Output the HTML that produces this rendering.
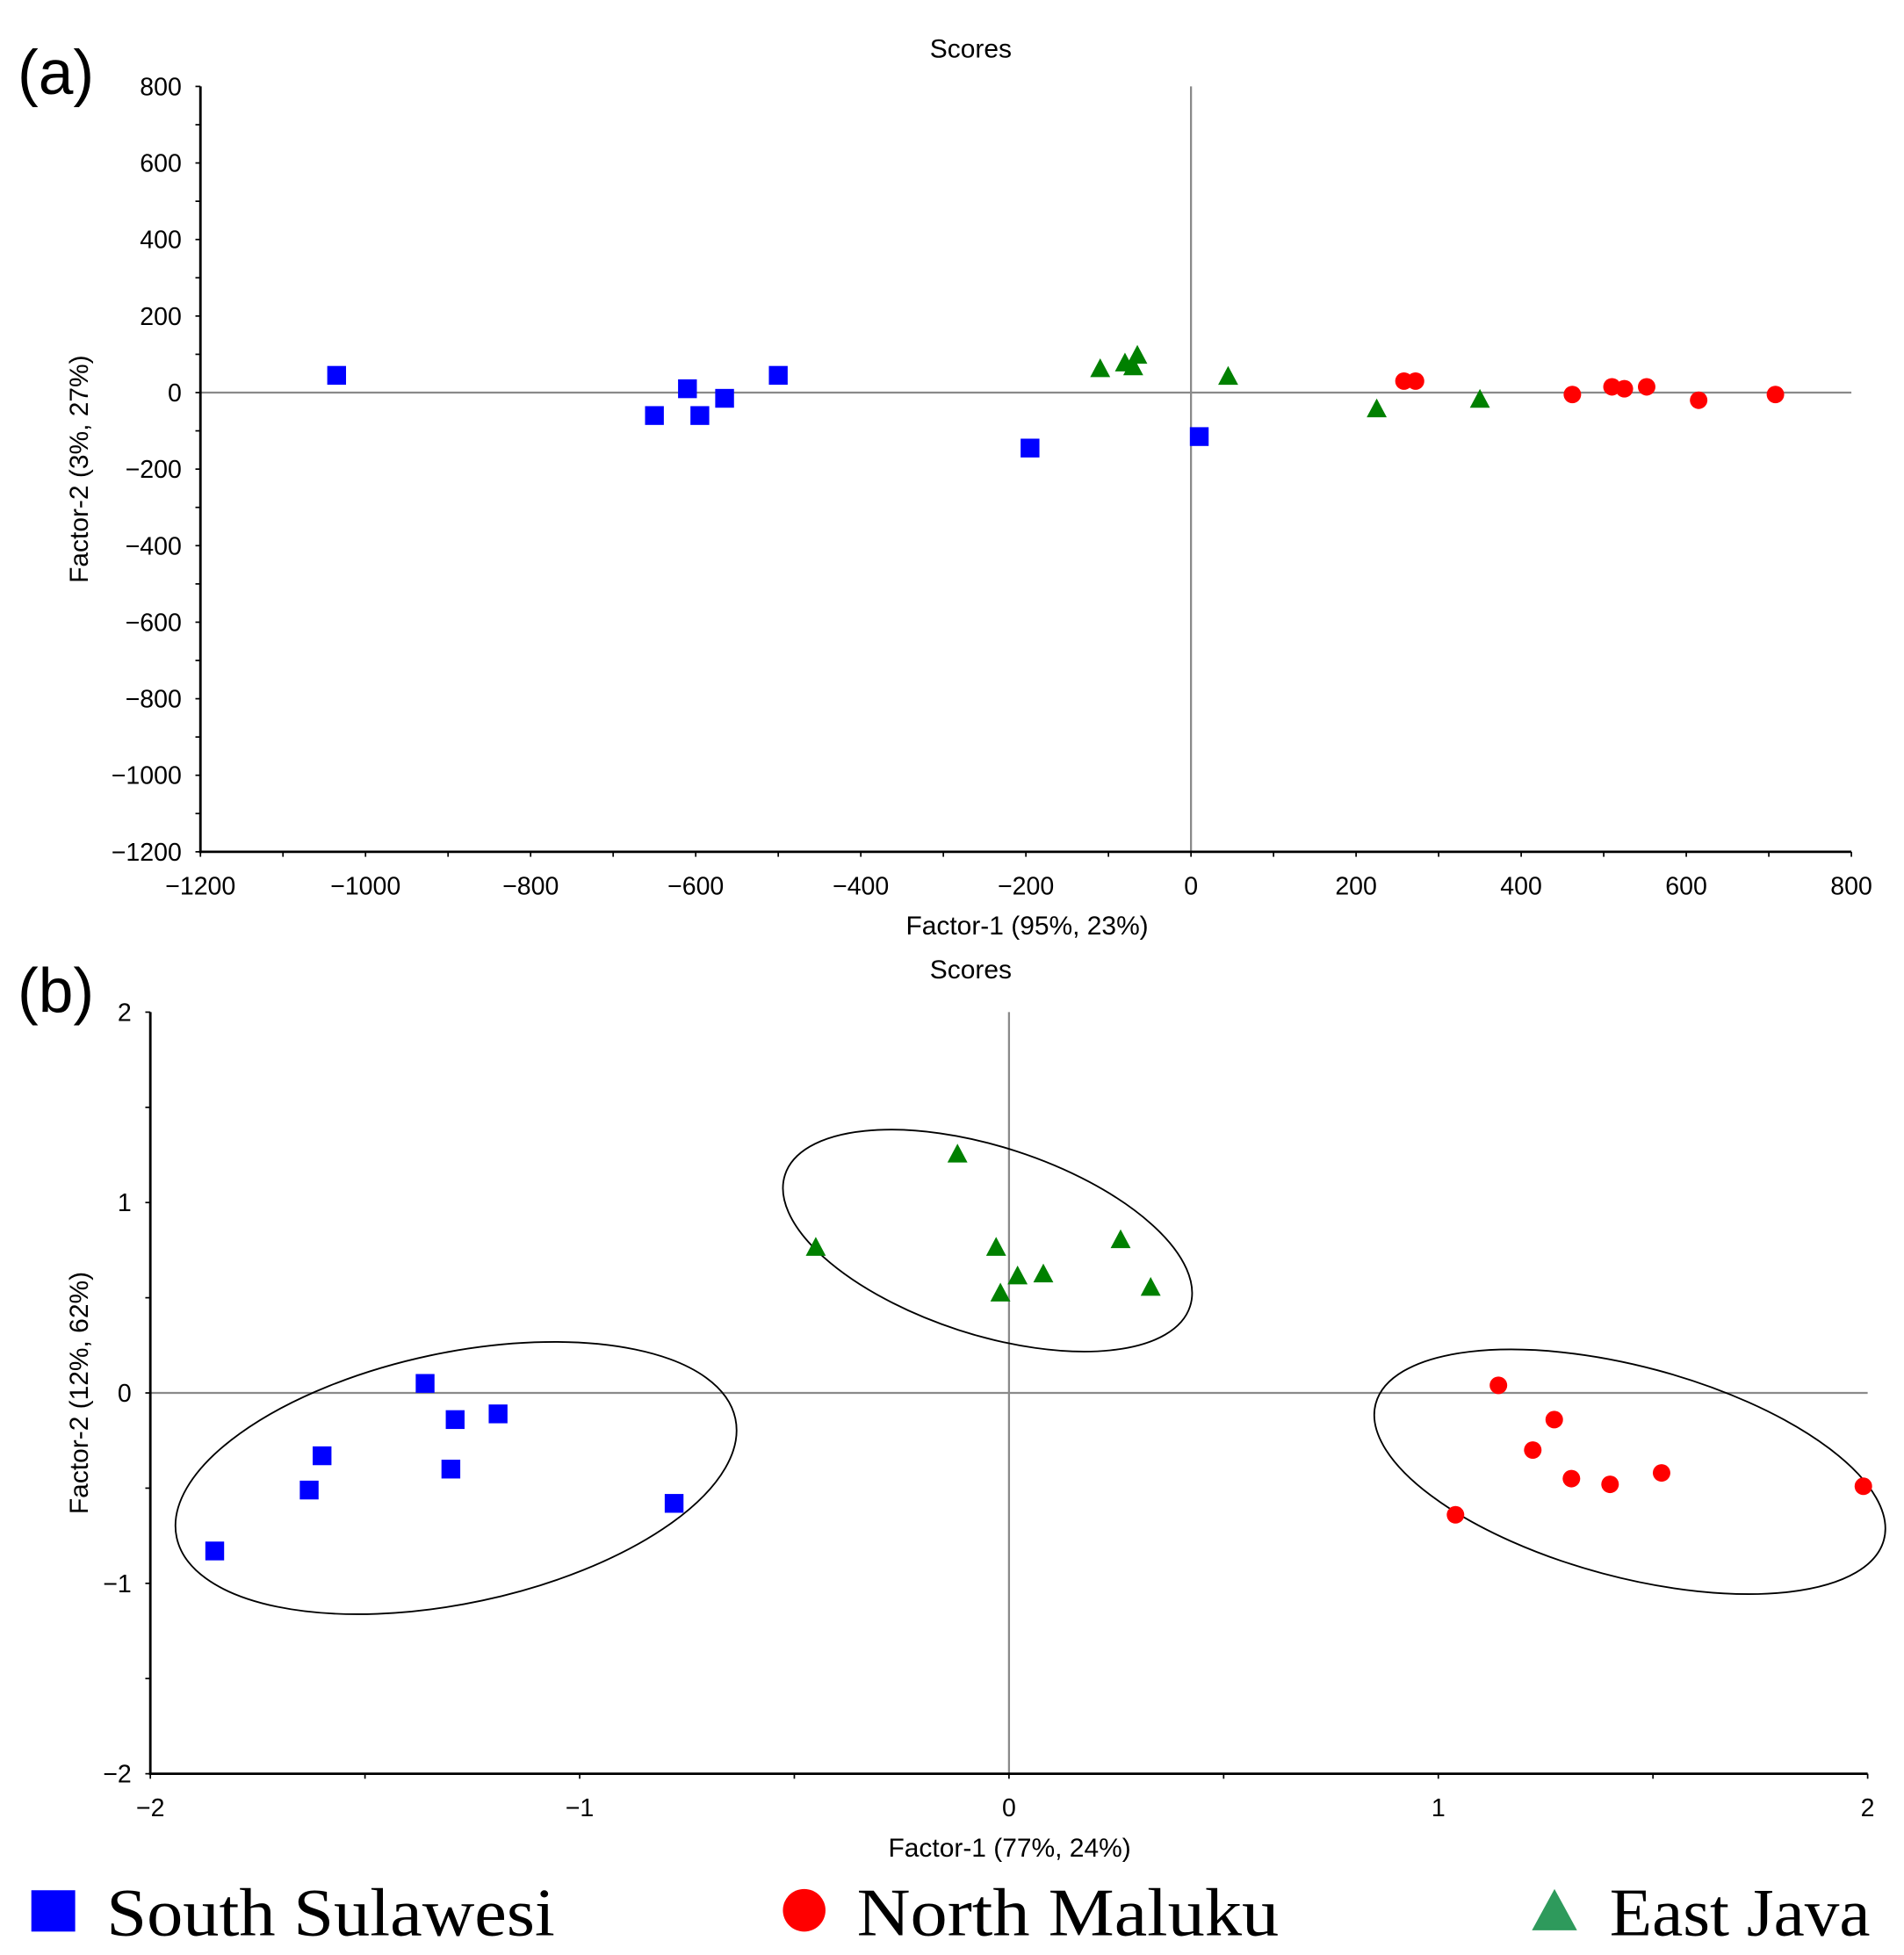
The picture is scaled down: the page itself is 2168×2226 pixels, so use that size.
<!DOCTYPE html>
<html><head><meta charset="utf-8"><style>
html,body{margin:0;padding:0;background:#fff}
svg{display:block}
text{font-family:"Liberation Sans",Arial,sans-serif}
</style></head><body>
<svg id="chart" width="2168" height="2226" viewBox="0 0 1520 1560.7" xmlns="http://www.w3.org/2000/svg"></svg>
<script>
const NS="http://www.w3.org/2000/svg";
// Panel (a) data
const aSouthX=[-1035,-650,-610,-595,-565,-500,-195,10];
const aSouthY=[45,-60,10,-60,-15,45,-145,-115];
const aEastX=[-110,-80,-70,-65,45,225,350];
const aEastY=[60,75,65,95,40,-45,-20];
const aNorthX=[258,272,462,510,525,552,615,708];
const aNorthY=[30,30,-5,15,10,15,-20,-5];
const aXTicks=[-1200,-1000,-800,-600,-400,-200,0,200,400,600,800];
const aYTicks=[800,600,400,200,0,-200,-400,-600,-800,-1000,-1200];
// Panel (b) data
const bSouthX=[-1.85,-1.63,-1.60,-1.36,-1.29,-1.30,-1.19,-0.78];
const bSouthY=[-0.83,-0.51,-0.33,0.05,-0.14,-0.40,-0.11,-0.58];
const bEastX=[-0.45,-0.12,-0.03,-0.02,0.02,0.08,0.26,0.33];
const bEastY=[0.76,1.25,0.76,0.52,0.61,0.62,0.80,0.55];
const bNorthX=[1.14,1.27,1.22,1.31,1.40,1.52,1.99,1.04];
const bNorthY=[0.04,-0.14,-0.30,-0.45,-0.48,-0.42,-0.49,-0.64];
const bXTicks=[-2,-1,0,1,2];
const bYTicks=[2,1,0,-1,-2];
// confidence ellipse centres (data units)
const ellCX=[-1.288,-0.05,1.446];
const ellCY=[-0.447,0.80,-0.414];
const svg=document.getElementById('chart');
function el(tag,attrs,parent){const e=document.createElementNS(NS,tag);for(const k in attrs)e.setAttribute(k,attrs[k]);(parent||svg).appendChild(e);return e;}
function txt(s,attrs,parent){const t=el('text',attrs,parent);t.textContent=s;return t;}
function fmt(v){return v<0?'\u2212'+(-v):String(v);}
function marker(g,type,x,y){
  if(type==='sq'){const m=el('rect',{x:x-7.5,y:y-7.5,width:15,height:15,fill:'#0000ff'},g);}
  else if(type==='ci'){const m=el('circle',{cx:x,cy:y,r:7,fill:'#ff0000'},g);}
  else{const m=el('polygon',{points:`${x},${y-9} ${x-8},${y+6} ${x+8},${y+6}`,fill:'#008000'},g);}
}
function panel(o){
  const g=el('g',{});
  const sx=v=>o.x0+(v-o.xmin)/(o.xmax-o.xmin)*(o.x1-o.x0);
  const sy=v=>o.y1-(v-o.ymin)/(o.ymax-o.ymin)*(o.y1-o.y0);
  let z=el('line',{x1:sx(0),x2:sx(0),y1:o.y0,y2:o.y1,stroke:'#8a8a8a','stroke-width':1.6},g);
  z=el('line',{x1:o.x0,x2:o.x1,y1:sy(0),y2:sy(0),stroke:'#8a8a8a','stroke-width':1.6},g);
  let ax=el('line',{x1:o.x0,x2:o.x0,y1:o.y0,y2:o.y1+1,stroke:'#000','stroke-width':2},g);
  ax=el('line',{x1:o.x0-1,x2:o.x1,y1:o.y1,y2:o.y1,stroke:'#000','stroke-width':2},g);
  for(let v=o.xmin;v<=o.xmax+1e-9;v+=o.xminor){const x=sx(v);el('line',{x1:x,x2:x,y1:o.y1,y2:o.y1+4,stroke:'#000','stroke-width':1.2},g);}
  for(let v=o.ymin;v<=o.ymax+1e-9;v+=o.yminor){const y=sy(v);el('line',{x1:o.x0-4,x2:o.x0,y1:y,y2:y,stroke:'#000','stroke-width':1.2},g);}
  o.xt.forEach(v=>{const t=txt(fmt(v),{x:sx(v),y:o.y1+34,'font-size':20,'text-anchor':'middle'},g);});
  o.yt.forEach(v=>{const t=txt(fmt(v),{x:o.x0-15,y:sy(v)+7,'font-size':20,'text-anchor':'end'},g);});
  let t=txt('Scores',{x:775,y:o.titleY,'font-size':21,'text-anchor':'middle'},g);
  t=txt(o.xlabel,{x:o.xlx,y:o.y1+66,'font-size':21,'text-anchor':'middle'},g);
  const ym=(o.y0+o.y1)/2;
  t=txt(o.ylabel,{x:0,y:0,'font-size':21,'text-anchor':'middle',transform:`translate(70,${ym}) rotate(-90)`},g);
  t=txt(o.tag,{x:14,y:o.tagY,'font-size':50},g);
  if(o.ell){o.ell.forEach((e,i)=>{const c=el('ellipse',{cx:0,cy:0,rx:e[0],ry:e[1],fill:'none',stroke:'#000','stroke-width':1.3,transform:`translate(${sx(ellCX[i])},${sy(ellCY[i])}) rotate(${e[2]})`},g);});}
  o.sX.forEach((v,i)=>marker(g,'sq',sx(v),sy(o.sY[i])));
  o.nX.forEach((v,i)=>marker(g,'ci',sx(v),sy(o.nY[i])));
  o.eX.forEach((v,i)=>marker(g,'tr',sx(v),sy(o.eY[i])));
}
panel({name:'panel-a',x0:160,x1:1478,y0:69,y1:680,xmin:-1200,xmax:800,ymin:-1200,ymax:800,xminor:100,yminor:100,
 xt:aXTicks,yt:aYTicks,sX:aSouthX,sY:aSouthY,nX:aNorthX,nY:aNorthY,eX:aEastX,eY:aEastY,
 titleY:46,xlabel:'Factor-1 (95%, 23%)',xlx:820,ylabel:'Factor-2 (3%, 27%)',tag:'(a)',tagY:75});
panel({name:'panel-b',x0:120,x1:1491,y0:808,y1:1416,xmin:-2,xmax:2,ymin:-2,ymax:2,xminor:0.5,yminor:0.5,
 xt:bXTicks,yt:bYTicks,sX:bSouthX,sY:bSouthY,nX:bNorthX,nY:bNorthY,eX:bEastX,eY:bEastY,
 titleY:781,xlabel:'Factor-1 (77%, 24%)',xlx:806,ylabel:'Factor-2 (12%, 62%)',tag:'(b)',tagY:808,
 ell:[[228,100,-12],[170,75,18],[210,84,15]]});
const lg=el('g',{});
function lentry(name,label,tx,len,draw){const g=el('g',{},lg);draw(g);
 const t=txt(label,{x:tx,y:1545,'font-size':54,textLength:len,lengthAdjust:'spacingAndGlyphs',style:'font-family:"Liberation Serif",serif'},g);}
lentry('legend-south-sulawesi','South Sulawesi',85,358,g=>el('rect',{x:25,y:1509,width:35,height:33,fill:'#0000ff'},g));
lentry('legend-north-maluku','North Maluku',684,337,g=>el('circle',{cx:642,cy:1525,r:17,fill:'#ff0000'},g));
lentry('legend-east-java','East Java',1285,208,g=>el('polygon',{points:'1241,1508 1223,1541 1259,1541',fill:'#2e9a5c'},g));
</script>
</body></html>
